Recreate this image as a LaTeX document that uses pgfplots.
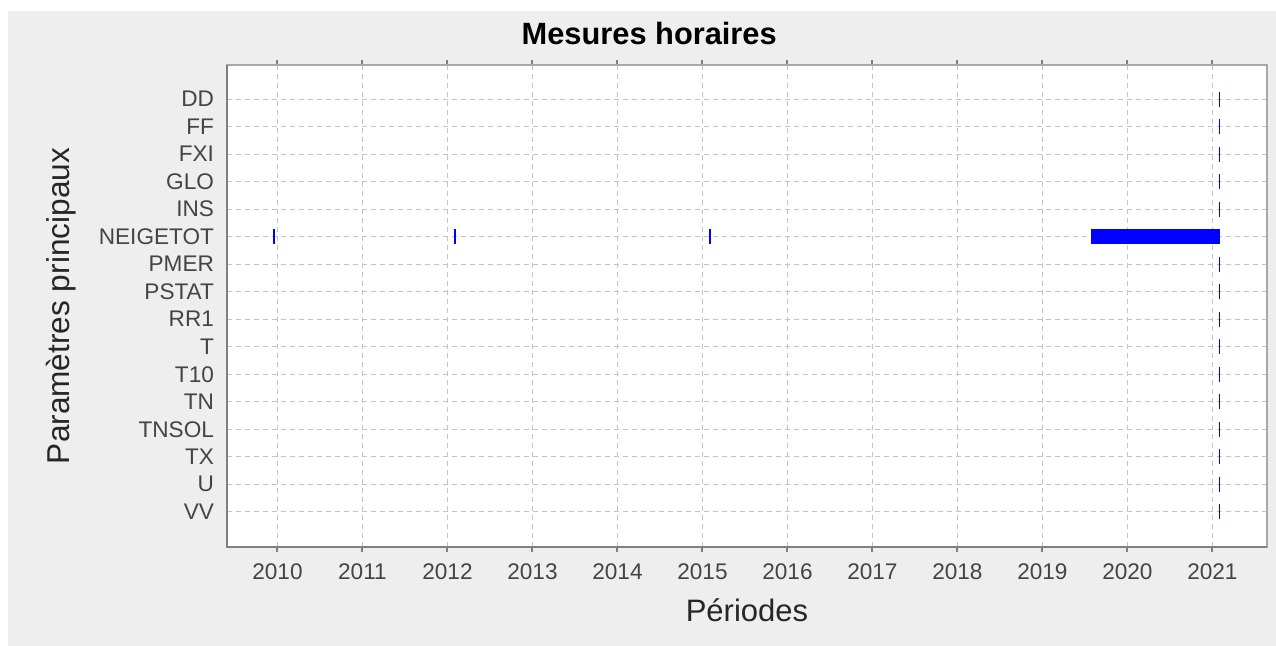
\documentclass[border=0pt]{standalone}
\usepackage{fontspec}
\setmainfont{Liberation Sans}
\usepackage{pgfplots}
\usepackage{pgfplotstable}
\pgfplotsset{compat=1.18}
\definecolor{panelgray}{HTML}{EEEEEE}
\definecolor{ticktext}{HTML}{444444}
\definecolor{gridgray}{HTML}{C4C4C4}
\definecolor{spinedark}{HTML}{808080}
\definecolor{spinelight}{HTML}{A8A8A8}

% short recordings (drawn as a tick)
\pgfplotstableread{
x y
2021.08 15
2021.08 14
2021.08 13
2021.08 12
2021.08 11
2009.96 10
2012.09 10
2015.09 10
2021.08 9
2021.08 8
2021.08 7
2021.08 6
2021.08 5
2021.08 4
2021.08 3
2021.08 2
2021.08 1
2021.08 0
}\shortmarks

% long period NEIGETOT
\pgfplotstableread{
x y
2019.57 10
2021.09 10
}\neigebar

\begin{document}
\begin{tikzpicture}
% page and panel background (1px = 0.5pt, axis box SW corner at origin)
\fill[white] (-113.5pt,-49.5pt) rectangle (524.5pt,273.5pt);
\fill[panelgray] (-109.5pt,-49.5pt) rectangle (524.5pt,268pt);
\begin{axis}[
  scale only axis,
  width=520pt, height=241pt,
  xmin=2009.406, xmax=2021.641,
  ymin=-1.28, ymax=16.24,
  axis background/.style={fill=white},
  axis line style={spinelight, line width=1pt},
  xtick={2010,...,2021},
  ytick={0,...,15},
  yticklabels={VV,U,TX,TNSOL,TN,T10,T,RR1,PSTAT,PMER,NEIGETOT,INS,GLO,FXI,FF,DD},
  /pgf/number format/assume math mode=true,
  /pgf/number format/set thousands separator={},
  tick align=outside,
  x tick style={spinedark, line width=1pt},
  xtick style={spinedark, line width=1pt},
  major tick length=2.5pt,
  y tick style={draw=none},
  ytick style={draw=none},
  xticklabel style={font=\fontsize{11.3}{13}\selectfont, text=ticktext, yshift=-2.5pt},
  yticklabel style={font=\fontsize{11.3}{13}\selectfont, text=ticktext, xshift=-0.5pt},
  grid=major,
  major grid style={gridgray, dash pattern=on 2.5pt off 2pt, line width=0.6pt},
  clip=false,
]
\addplot[blue, line width=7.5pt, line cap=butt] table {\neigebar};
\addplot[blue, only marks, mark=|, mark size=3.75pt, mark options={line width=0.65pt}] table {\shortmarks};
% darker left and bottom spines
\draw[spinedark, line width=1pt] (rel axis cs:0,1) -- (rel axis cs:0,0) -- (rel axis cs:1,0);
\node[font=\bfseries\fontsize{15.4}{18}\selectfont, anchor=center] at (axis description cs:0.406,1.066) {Mesures horaires};
\node[font=\fontsize{15.5}{18}\selectfont, text=black!85, anchor=center] at (axis description cs:0.5,-0.131) {Périodes};
\node[font=\fontsize{15.8}{18}\selectfont, text=black!85, anchor=center, rotate=90] at (axis description cs:-0.159,0.5) {Paramètres principaux};
\end{axis}
\end{tikzpicture}
\end{document}
